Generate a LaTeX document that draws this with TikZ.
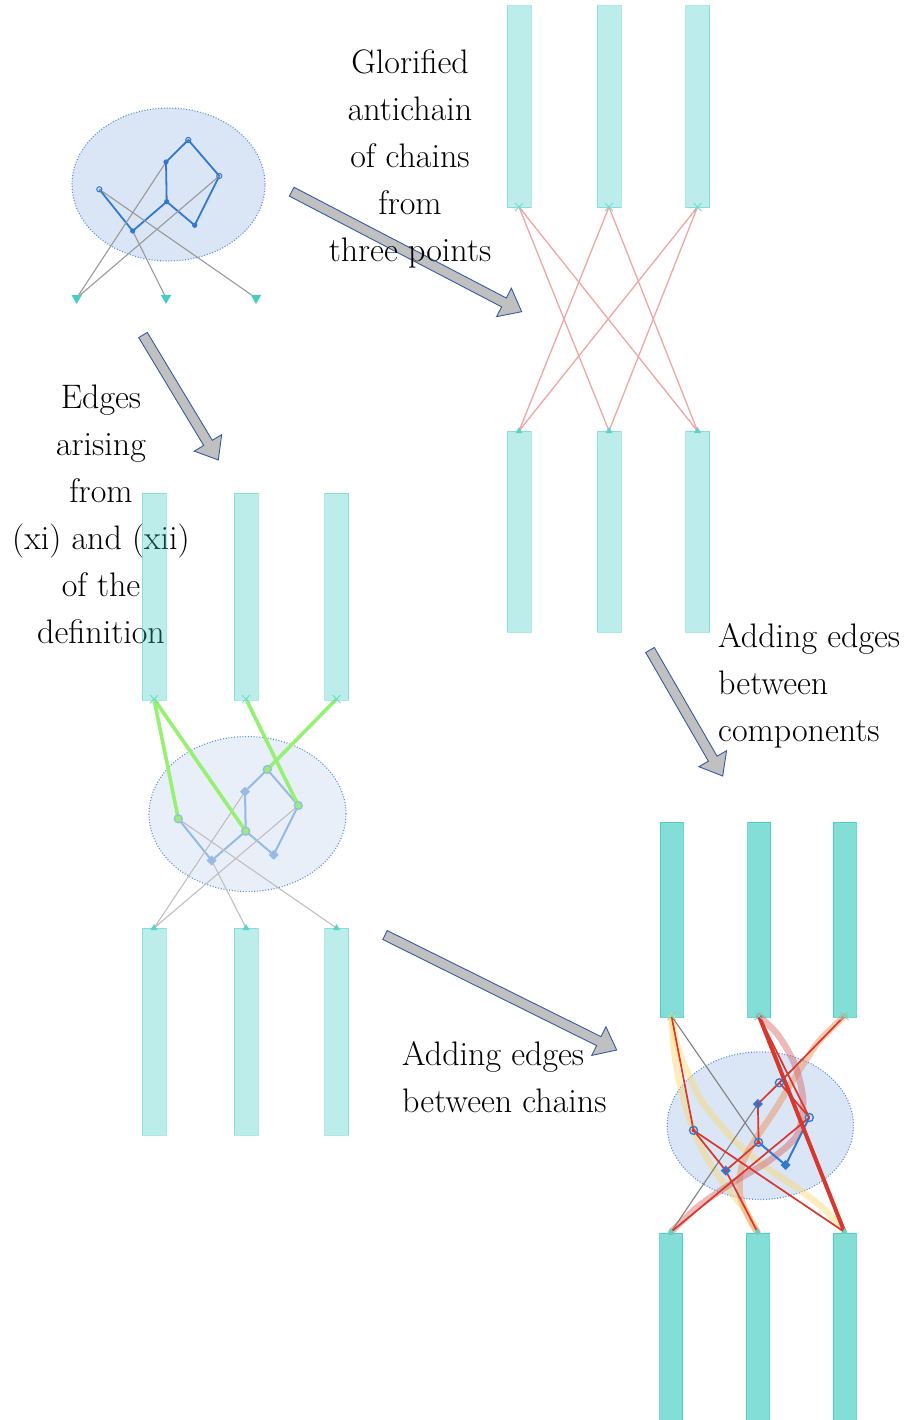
\documentclass[tikz,border=0pt]{standalone}
\usetikzlibrary{calc,shapes.geometric,shapes.misc}

\definecolor{chaincol}{RGB}{50,200,190}
\definecolor{posetblue}{RGB}{50,120,205}
\definecolor{blobfill}{RGB}{218,229,245}
\definecolor{blobline}{RGB}{90,140,215}
\definecolor{edgegreen}{RGB}{150,240,115}
\definecolor{edgered}{RGB}{215,55,45}
\definecolor{palered}{RGB}{238,165,165}
\definecolor{glowyellow}{RGB}{250,215,110}
\definecolor{gloworange}{RGB}{240,140,80}
\definecolor{glowpink}{RGB}{215,100,100}
\definecolor{arrowfill}{RGB}{192,192,192}
\definecolor{arrowline}{RGB}{55,90,160}

% the seven points of the poset, around the centre of its blob
\newcommand\posetpts[1]{%
\coordinate (#1a) at (-69.2,4.8);
\coordinate (#1b) at (-35.8,46.5);
\coordinate (#1c) at (-1.8,17.2);
\coordinate (#1d) at (-2.5,-22.5);
\coordinate (#1e) at (19.8,-44.5);
\coordinate (#1f) at (50.8,-8.5);
\coordinate (#1g) at (26.2,40.8);}

% big grey arrow from #1 to #2
\newcommand\fatarrow[2]{%
\coordinate (#2h) at ($(#2)!20pt!(#1)$);
\draw[fatarrow] ($(#1)!5pt!90:(#2)$)--($(#2h)!5pt!90:(#2)$)--($(#2h)!16pt!90:(#2)$)
--(#2)--($(#2h)!16pt!-90:(#2)$)--($(#2h)!5pt!-90:(#2)$)--($(#1)!5pt!-90:(#2)$)--cycle;}

\begin{document}
\begin{tikzpicture}[x=1pt,y=-1pt,
blob/.style={fill=blobfill, draw=blobline, line width=1.1pt, dash pattern=on 1pt off 1.8pt},
posetedge/.style={draw=posetblue, line width=2pt},
shadow/.style={draw=gray!80, line width=1.1pt},
chainpale/.style={fill=chaincol, fill opacity=0.32, draw=chaincol, draw opacity=0.4, line width=1pt},
chaindeep/.style={fill=chaincol, fill opacity=0.6, draw=chaincol, draw opacity=0.7, line width=1pt},
target/.style={regular polygon, regular polygon sides=3, shape border rotate=180, fill=chaincol!90, inner sep=0pt, minimum size=12pt},
landing/.style={regular polygon, regular polygon sides=3, fill=chaincol!80, inner sep=0pt, minimum size=8pt},
hook/.style={cross out, draw=chaincol!70, line width=1pt, inner sep=0pt, minimum size=7pt},
greenedge/.style={draw=edgegreen, line width=3.6pt},
rededge/.style={draw=edgered, line width=1.7pt},
paleedge/.style={draw=palered, line width=1.3pt},
glow/.style={line width=6.5pt, line cap=round, opacity=0.45},
fatarrow/.style={fill=arrowfill, draw=arrowline, line width=0.9pt, line join=miter},
note/.style={inner sep=0pt, font=\fontsize{34}{47}\selectfont}]
\useasboundingbox (0,0) rectangle (907,1420);

% the poset alone
\begin{scope}[shift={(168.5,184.5)}]
\draw[blob] (0,0) ellipse [x radius=96.5pt, y radius=76.5pt];
\posetpts{p}
\end{scope}
\draw[posetedge, line width=1.8pt] (pa)--(pb)--(pc)--(pd)--(pe)--(pf)--(pg)--(pc);
\node[target] (t1) at (76.7,298) {};
\node[target] (t2) at (166,298) {};
\node[target] (t3) at (256,298) {};
\draw[shadow] (t1)--(pd) (t1)--(pf) (t2)--(pb) (t3)--(pa);
\foreach \v in {b,c,d,g} \fill[posetblue] (p\v) circle[radius=2.6];
\foreach \v in {a,e,f} \draw[posetblue, line width=1pt] (p\v) circle[radius=2.6];

% antichain of chains
\foreach \i/\x in {1/519,2/609,3/697.5} {
\draw[chainpale] (\x-12,6) rectangle (\x+12,208);
\draw[chainpale] (\x-12,431) rectangle (\x+12,632);
\coordinate (au\i) at (\x,207);
\coordinate (al\i) at (\x,431);
}
\foreach \i/\j in {1/2,1/3,2/1,2/3,3/1,3/2} \draw[paleedge] (au\i)--(al\j);
\foreach \i in {1,2,3} {\node[hook] (ah\i) at (au\i) {}; \node[landing] (at\i) at (al\i) {};}

% arrows
\coordinate (tail1) at (291.7,191.7); \coordinate (tip1) at (521.7,311.7);
\coordinate (tail2) at (143,335); \coordinate (tip2) at (218.3,460);
\coordinate (tail3) at (385,935); \coordinate (tip3) at (616.7,1050);
\coordinate (tail4) at (650,650); \coordinate (tip4) at (722.7,776);
\fatarrow{tail1}{tip1}
\fatarrow{tail2}{tip2}
\fatarrow{tail3}{tip3}
\fatarrow{tail4}{tip4}

% texts
\node[note, align=center] (glorified) at (410,159) {Glorified\\antichain\\of chains\\from\\three points};
\node[note, align=center] (arising) at (101,514) {Edges\\arising\\from\\(xi) and (xii)\\of the\\definition};
\node[note, align=left, anchor=west] (compon) at (718,686) {Adding edges\\between\\components};
\node[note, align=left, anchor=west] (chains) at (402,1077) {Adding edges\\between chains};

% poset with chains, edges (xi) and (xii)
\foreach \i/\x in {1/154,2/246,3/336.5} {
\draw[chainpale] (\x-12,493) rectangle (\x+12,700);
\draw[chainpale] (\x-12,928) rectangle (\x+12,1135);
\coordinate (bu\i) at (\x,699);
\coordinate (bl\i) at (\x,928);
}
\begin{scope}[shift={(247.5,814)}]
\draw[blob, fill opacity=0.6] (0,0) ellipse [x radius=98.5pt, y radius=77.5pt];
\posetpts{q}
\end{scope}
\draw[posetedge, draw opacity=0.45] (qa)--(qb)--(qc)--(qd)--(qe)--(qf)--(qg)--(qc);
\draw[shadow, draw=gray!50] (bl1)--(qd) (bl1)--(qf) (bl2)--(qb) (bl3)--(qa);
\draw[greenedge] (bu1)--(qa) (bu1)--(qc) (bu2)--(qf) (bu3)--(qe);
\foreach \v in {a,c,e,f} \filldraw[fill=edgegreen, draw=posetblue!50, line width=1.3pt] (q\v) circle[radius=4];
\foreach \v in {b,d,g} \fill[posetblue!50] (q\v) ++(0,-5)--++(5,5)--++(-5,5)--++(-5,-5)--cycle;
\foreach \i in {1,2,3} {\node[hook] (bh\i) at (bu\i) {}; \node[landing] (bt\i) at (bl\i) {};}

% everything together
\foreach \i/\x/\z in {1/671.5/671,2/759/757.5,3/844.5/844.5} {
\draw[chaindeep] (\x-11.5,822) rectangle (\x+11.5,1017);
\draw[chaindeep] (\z-11.5,1233) rectangle (\z+11.5,1421);
\coordinate (cu\i) at (\x,1016);
\coordinate (cl\i) at (\z,1232);
}
\begin{scope}[shift={(760.3,1125.7)}, scale=0.965]
\draw[blob] (0,0) ellipse [x radius=96.5pt, y radius=76.5pt];
\posetpts{r}
\end{scope}
\draw[glow, draw=glowyellow] plot[smooth] coordinates {(cu1) (676,1040) (683,1062) (703,1103) (737,1143) (770,1170) (800,1190) (825,1210) (cl3)};
\draw[glow, draw=glowyellow] plot[smooth] coordinates {(cu1) (674,1050) (680,1085) (690,1120) (705,1155) (725,1185) (745,1210) (cl2)};
\draw[glow, draw=gloworange] plot[smooth] coordinates {(cu3) (820,1040) (806,1060) (790,1085) (775,1110) (755,1140) (742,1165) (740,1195) (750,1220) (cl2)};
\draw[glow, draw=glowpink] plot[smooth] coordinates {(cu2) (778,1035) (795,1065) (803,1100) (797,1135) (770,1160) (737,1180) (700,1205) (cl1)};
\draw[shadow, draw=black!50] (cu1)--(rc) (cl1)--(rd);
\draw[posetedge] (rc)--(rg)--(rf);
\draw[rededge] (ra)--(rb)--(rc)--(rd)--(re)--(rf);
\draw[rededge] (cu1)--(ra) (ra)--(cl3) (rb)--(cl2) (rf)--(cl1) (cu3)--(re) (cu2)--(rf);
\draw[rededge, line width=4pt] (cu2)--(cl3);
\foreach \v in {a,c,e,f} {\draw[posetblue, line width=1.3pt] (r\v) circle[radius=4];}
\foreach \v in {a,c} \fill[edgered] (r\v) circle[radius=2];
\foreach \v in {b,d,g} \fill[posetblue] (r\v) ++(0,-5)--++(5,5)--++(-5,5)--++(-5,-5)--cycle;
\foreach \v in {b,d} \fill[edgered] (r\v) circle[radius=1.8];
\foreach \i in {1,2,3} {\node[hook] (ch\i) at (cu\i) {}; \node[landing] (ct\i) at (cl\i) {};}
\end{tikzpicture}
\end{document}
